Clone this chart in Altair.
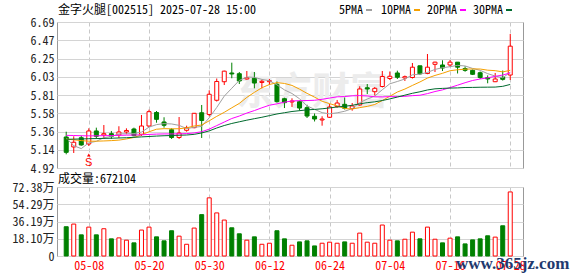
import altair as alt
import pandas as pd

# ---------------- data ----------------
dates = ["04-30", "05-06", "05-07", "05-08", "05-09", "05-12", "05-13", "05-14", "05-15", "05-16",
         "05-19", "05-20", "05-21", "05-22", "05-23", "05-26", "05-27", "05-28", "05-29", "05-30",
         "06-03", "06-04", "06-05", "06-06", "06-09", "06-10", "06-11", "06-12", "06-13", "06-16",
         "06-17", "06-18", "06-19", "06-20", "06-23", "06-24", "06-25", "06-26", "06-27", "06-30",
         "07-01", "07-02", "07-03", "07-04", "07-07", "07-08", "07-09", "07-10", "07-11", "07-14",
         "07-15", "07-16", "07-17", "07-18", "07-21", "07-22", "07-23", "07-24", "07-25", "07-28"]

opens = [5.296, 5.175, 5.287, 5.211, 5.369, 5.320, 5.336, 5.320, 5.357, 5.393,
         5.329, 5.429, 5.593, 5.478, 5.384, 5.290, 5.377, 5.409, 5.590, 5.569,
         5.741, 5.966, 6.072, 6.063, 5.999, 6.008, 5.957, 5.966, 5.935, 5.760,
         5.720, 5.724, 5.651, 5.547, 5.502, 5.535, 5.666, 5.692, 5.641, 5.684,
         5.893, 5.845, 5.908, 6.005, 6.072, 6.011, 6.017, 6.159, 6.066, 6.177,
         6.169, 6.169, 6.203, 6.126, 6.104, 6.075, 6.015, 5.966, 6.020, 6.047]
highs = [5.360, 5.304, 5.312, 5.401, 5.409, 5.441, 5.369, 5.426, 5.401, 5.409,
         5.563, 5.627, 5.611, 5.535, 5.401, 5.538, 5.433, 5.587, 5.684, 5.862,
         6.005, 6.100, 6.197, 6.084, 6.096, 6.084, 5.991, 5.999, 5.969, 5.772,
         5.765, 5.738, 5.687, 5.581, 5.547, 5.696, 5.745, 5.775, 5.708, 5.911,
         5.938, 5.902, 6.096, 6.090, 6.100, 6.041, 6.193, 6.160, 6.302, 6.209,
         6.226, 6.229, 6.203, 6.153, 6.114, 6.090, 6.043, 6.072, 6.102, 6.545]
lows = [5.086, 5.102, 5.190, 5.187, 5.272, 5.272, 5.272, 5.284, 5.329, 5.304,
        5.308, 5.417, 5.469, 5.409, 5.272, 5.272, 5.360, 5.401, 5.284, 5.547,
        5.726, 5.926, 6.008, 5.938, 5.991, 5.886, 5.886, 5.926, 5.712, 5.647,
        5.660, 5.615, 5.526, 5.484, 5.433, 5.526, 5.651, 5.629, 5.615, 5.675,
        5.817, 5.799, 5.896, 5.987, 5.999, 5.975, 6.005, 6.047, 6.057, 6.084,
        6.096, 6.145, 6.066, 6.087, 6.047, 5.999, 5.947, 5.962, 5.980, 5.987]
closes = [5.110, 5.232, 5.199, 5.369, 5.304, 5.336, 5.304, 5.357, 5.375, 5.312,
          5.429, 5.603, 5.510, 5.438, 5.290, 5.344, 5.409, 5.583, 5.496, 5.814,
          5.969, 6.094, 6.060, 5.975, 6.015, 5.950, 5.971, 5.978, 5.724, 5.712,
          5.732, 5.647, 5.550, 5.514, 5.514, 5.660, 5.708, 5.644, 5.672, 5.878,
          5.878, 5.886, 6.029, 6.032, 6.020, 6.027, 6.142, 6.062, 6.142, 6.203,
          6.132, 6.203, 6.142, 6.104, 6.056, 6.017, 5.999, 5.999, 5.995, 6.397]

ma5 = [5.285, 5.190, 5.155, 5.225, 5.243, 5.288, 5.302, 5.334, 5.335, 5.337,
       5.355, 5.415, 5.446, 5.458, 5.454, 5.437, 5.398, 5.413, 5.424, 5.529,
       5.654, 5.791, 5.887, 5.982, 6.023, 6.019, 5.994, 5.978, 5.928, 5.867,
       5.823, 5.759, 5.673, 5.631, 5.591, 5.577, 5.589, 5.608, 5.640, 5.712,
       5.756, 5.792, 5.869, 5.941, 5.969, 5.999, 6.050, 6.057, 6.079, 6.115,
       6.136, 6.148, 6.164, 6.157, 6.127, 6.104, 6.064, 6.035, 6.013, 6.081]
ma10 = [5.270, 5.262, 5.252, 5.245, 5.245, 5.248, 5.252, 5.258, 5.272, 5.290,
        5.322, 5.359, 5.390, 5.397, 5.395, 5.396, 5.407, 5.429, 5.441, 5.492,
        5.546, 5.595, 5.650, 5.703, 5.776, 5.837, 5.893, 5.932, 5.955, 5.945,
        5.921, 5.876, 5.825, 5.779, 5.729, 5.700, 5.674, 5.641, 5.635, 5.652,
        5.667, 5.690, 5.738, 5.790, 5.841, 5.877, 5.921, 5.963, 6.010, 6.042,
        6.068, 6.099, 6.111, 6.118, 6.121, 6.120, 6.106, 6.100, 6.085, 6.104]
ma20 = [5.316, 5.314, 5.311, 5.310, 5.310, 5.312, 5.313, 5.316, 5.318, 5.320,
        5.322, 5.327, 5.331, 5.333, 5.333, 5.334, 5.337, 5.345, 5.360, 5.391,
        5.434, 5.477, 5.520, 5.550, 5.586, 5.616, 5.650, 5.681, 5.698, 5.718,
        5.733, 5.736, 5.738, 5.741, 5.753, 5.768, 5.783, 5.786, 5.795, 5.798,
        5.794, 5.783, 5.782, 5.785, 5.785, 5.789, 5.797, 5.802, 5.822, 5.847,
        5.867, 5.895, 5.924, 5.954, 5.981, 5.999, 6.013, 6.031, 6.047, 6.073]
ma30 = [5.268, 5.270, 5.272, 5.275, 5.277, 5.279, 5.281, 5.284, 5.287, 5.292,
        5.297, 5.302, 5.307, 5.311, 5.314, 5.317, 5.320, 5.328, 5.345, 5.370,
        5.405, 5.435, 5.460, 5.480, 5.500, 5.518, 5.535, 5.555, 5.575, 5.590,
        5.605, 5.615, 5.625, 5.630, 5.638, 5.648, 5.660, 5.668, 5.680, 5.698,
        5.712, 5.722, 5.738, 5.758, 5.780, 5.803, 5.826, 5.844, 5.866, 5.880,
        5.885, 5.889, 5.891, 5.896, 5.897, 5.899, 5.900, 5.901, 5.910, 5.933]

# volume in 万 (10k shares)
volumes = [30.7, 33.5, 22.2, 30.3, 22.2, 28.6, 18.0, 19.0, 16.6, 13.8,
           27.2, 30.3, 20.1, 15.9, 26.5, 20.8, 12.3, 29.3, 43.4, 61.0,
           45.2, 37.7, 29.6, 23.3, 16.6, 20.1, 12.3, 13.4, 26.5, 18.0,
           11.3, 14.8, 15.9, 10.6, 13.4, 14.5, 13.4, 14.8, 13.4, 24.0,
           14.5, 13.4, 32.5, 16.6, 15.9, 17.6, 25.0, 18.0, 30.3, 17.6,
           13.8, 18.7, 20.1, 12.7, 16.9, 18.0, 21.2, 19.8, 31.7, 67.2104]
vol_rise = [0, 1, 0, 1, 0, 1, 0, 1, 1, 0,
            1, 1, 0, 0, 0, 1, 1, 1, 0, 1,
            1, 1, 0, 0, 1, 0, 1, 1, 0, 0,
            1, 0, 0, 0, 1, 1, 1, 0, 1, 1,
            1, 1, 1, 1, 0, 1, 1, 0, 1, 1,
            0, 1, 0, 0, 0, 0, 0, 1, 0, 1]

signal_idx = [3]
signal_text = ["S"]

price_ticks = [4.92, 5.14125, 5.3625, 5.58375, 5.805, 6.02625, 6.2475, 6.46875, 6.69]
vol_ticks = [0, 18.1, 36.19, 54.29, 72.38]
label_idx = [3, 11, 19, 27, 35, 43, 51, 59]

# ---------------- styling ----------------
FONT = "Noto Sans Mono CJK SC, Noto Sans CJK SC, monospace"
RED = "#ff0000"
GREEN = "#008000"
C_MA5 = "#a0a0a0"
C_MA10 = "#f5a000"
C_MA20 = "#ff00ff"
C_MA30 = "#006a2e"
GRID = "#d4d4d4"
VGRID = "#c8c8c8"
LABEL = "#222222"

W = 466
H1 = 146
H2 = 69

df = pd.DataFrame({
    "date": dates, "open": opens, "high": highs, "low": lows, "close": closes,
    "ma5": ma5, "ma10": ma10, "ma20": ma20, "ma30": ma30,
    "vol": volumes,
})
df["i"] = list(range(len(dates)))
df["dir"] = ["up" if c >= o else "down" for o, c in zip(opens, closes)]
df["vdir"] = ["up" if r else "down" for r in vol_rise]

sig_df = pd.DataFrame({"i": signal_idx, "t": signal_text})

x_scale = alt.Scale(domain=[-0.56, 60.03], nice=False, zero=False)
py_scale = alt.Scale(domain=[4.92, 6.69], nice=False, zero=False)
vy_scale = alt.Scale(domain=[0, 72.38], nice=False, zero=True)

label_expr = "[" + ",".join("'%s'" % d for d in dates) + "][datum.value]"


def x_enc(show):
    return alt.X("i:Q", scale=x_scale, title=None,
                 axis=alt.Axis(values=label_idx, labels=show, labelExpr=label_expr,
                               labelColor=RED, labelFont=FONT, labelFontSize=12,
                               labelPadding=4, labelFlush=False, labelOverlap=False,
                               ticks=False, domain=False, grid=True, gridDash=[4, 3],
                               gridColor=VGRID, gridWidth=1))


p_axis = alt.Axis(values=price_ticks, labelExpr="format(datum.value + 0.0001, '.2f')",
                  labelFont=FONT, labelFontSize=12, labelColor=LABEL, labelPadding=3,
                  labelFlush=False, labelOverlap=False, ticks=False, domain=False,
                  grid=True, gridColor=GRID)
v_axis = alt.Axis(values=vol_ticks,
                  labelExpr="datum.value == 0 ? '0' : format(datum.value, '.2f') + '万'",
                  labelFont=FONT, labelFontSize=12, labelColor=LABEL, labelPadding=3,
                  labelFlush=False, labelOverlap=False, ticks=False, domain=False,
                  grid=True, gridColor=GRID)


def py(field):
    return alt.Y(field + ":Q", scale=py_scale, axis=p_axis, title=None)


def one(text=""):
    return alt.Chart(pd.DataFrame({"t": [text]}))


def label(text, x, y, color="#000000", size=12, font=FONT, weight="normal"):
    return one(text).mark_text(align="left", baseline="middle", fontSize=size, font=font,
                               fontWeight=weight, color=color).encode(
        x=alt.value(x), y=alt.value(y), text="t:N")


def dash(x1, x2, y, color):
    return one().mark_rule(color=color, strokeWidth=2).encode(
        x=alt.value(x1), x2=alt.value(x2), y=alt.value(y))


base = alt.Chart(df)

watermark = one("东方财富").mark_text(align="left", baseline="middle", fontSize=38,
                                   font="Noto Sans CJK SC", fontWeight="bold",
                                   color="#ececec").encode(
    x=alt.value(179), y=alt.value(71), text="t:N")

wicks = base.mark_rule(strokeWidth=1).encode(
    x=x_enc(False), y=py("low"), y2="high:Q",
    color=alt.Color("dir:N", scale=alt.Scale(domain=["up", "down"], range=[RED, GREEN]),
                    legend=None))
body_up = base.transform_filter("datum.dir == 'up'").mark_bar(
    width=4, fill="white", stroke=RED, strokeWidth=1).encode(
    x=x_enc(False), y=py("open"), y2="close:Q")
body_dn = base.transform_filter("datum.dir == 'down'").mark_bar(
    width=4, fill=GREEN, stroke=GREEN, strokeWidth=1).encode(
    x=x_enc(False), y=py("open"), y2="close:Q")


def ma_line(field, color):
    return base.mark_line(strokeWidth=1, color=color).encode(x=x_enc(False), y=py(field))


# trade signal marker ("S" with a small arrow) under the 05-08 candle
sig_arrow = alt.Chart(sig_df).mark_point(shape="triangle-up", filled=True, size=14,
                                         color=RED, opacity=1).encode(
    x=x_enc(False), y=alt.value(133))
sig_text = alt.Chart(sig_df).mark_text(baseline="middle", align="center", fontSize=11,
                                       font="Liberation Sans", color=RED).encode(
    x=x_enc(False), y=alt.value(140.5), text="t:N")

anchor = one().mark_rect(fill="white").encode(
    x=alt.value(-56), x2=alt.value(-55), y=alt.value(-21), y2=alt.value(-20))

top = alt.layer(
    anchor, watermark, wicks, body_up, body_dn,
    ma_line("ma5", C_MA5), ma_line("ma10", C_MA10),
    ma_line("ma20", C_MA20), ma_line("ma30", C_MA30),
    sig_arrow, sig_text,
    label("金字火腿[002515] 2025-07-28 15:00", 1, -12),
    label("5PMA", 282, -12), dash(309, 315, -12, C_MA5),
    label("10PMA", 324, -12), dash(357, 363, -12, C_MA10),
    label("20PMA", 370, -12), dash(403, 409, -12, C_MA20),
    label("30PMA", 416, -12), dash(449, 455, -12, C_MA30),
).properties(width=W, height=H1)

vol_y = alt.Y("vol:Q", scale=vy_scale, axis=v_axis, title=None)
vol_up = base.transform_filter("datum.vdir == 'up'").mark_bar(
    width=4, fill="white", stroke=RED, strokeWidth=1).encode(x=x_enc(True), y=vol_y)
vol_dn = base.transform_filter("datum.vdir == 'down'").mark_bar(
    width=4, fill=GREEN, stroke=GREEN, strokeWidth=1).encode(x=x_enc(True), y=vol_y)

bottom = alt.layer(
    vol_up, vol_dn,
    label("成交量:672104", 1, -8),
    label("www.365jz.com", 399, 77, color="#1f3a6e", size=17,
          font="Liberation Serif", weight="bold"),
).properties(width=W, height=H2)

chart = alt.vconcat(top, bottom, spacing=19, bounds="flush").properties(
    padding=0, background="white"
).configure_view(stroke="#999999", strokeWidth=1)

chart.save("out.html", embed_options={"renderer": "svg", "actions": False})
